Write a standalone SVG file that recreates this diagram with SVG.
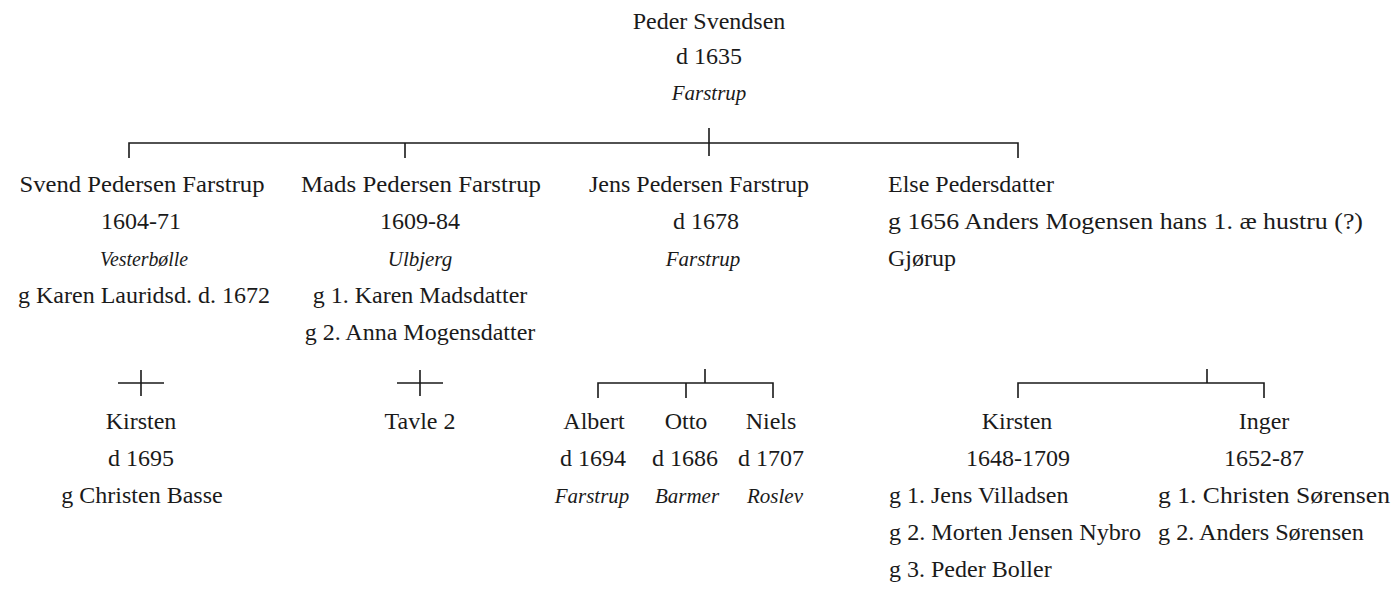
<svg xmlns="http://www.w3.org/2000/svg" width="1397" height="594" viewBox="0 0 1397 594">
<style>
text{font-family:"Liberation Serif","DejaVu Serif",serif;font-size:24px;fill:#1a1a1a}
.c{text-anchor:middle}
.i{font-style:italic;font-size:21px}
.line{stroke:#1a1a1a;stroke-width:1.6;fill:none}
</style>
<rect width="1397" height="594" fill="#fff"/>
<g id="connectors">
<path class="line" d="M129,158V143H1018V158M405,143V158M709,128V156"/>
<path class="line" d="M118,383H164M141,370V396"/>
<path class="line" d="M397,383H443M420,370V396"/>
<path class="line" d="M598,398V383H773V398M686,383V398M705,369V383"/>
<path class="line" d="M1018,398V383H1264V398M1207,369V383"/>
</g>
<g id="peder">
<text class="c" x="709" y="29">Peder Svendsen</text>
<text class="c" x="709" y="64">d 1635</text>
<text class="c i" x="709" y="100">Farstrup</text>
</g>
<g id="svend">
<text class="c" x="142" y="192" textLength="245" lengthAdjust="spacingAndGlyphs">Svend Pedersen Farstrup</text>
<text class="c" x="141" y="229">1604-71</text>
<text class="c i" x="144" y="266" textLength="88" lengthAdjust="spacingAndGlyphs">Vesterbølle</text>
<text class="c" x="144" y="303">g Karen Lauridsd. d. 1672</text>
</g>
<g id="mads">
<text class="c" x="421" y="192" textLength="240" lengthAdjust="spacingAndGlyphs">Mads Pedersen Farstrup</text>
<text class="c" x="420" y="229">1609-84</text>
<text class="c i" x="420" y="266">Ulbjerg</text>
<text class="c" x="420" y="303">g 1. Karen Madsdatter</text>
<text class="c" x="420" y="340">g 2. Anna Mogensdatter</text>
</g>
<g id="jens">
<text class="c" x="699" y="192">Jens Pedersen Farstrup</text>
<text class="c" x="706" y="229">d 1678</text>
<text class="c i" x="703" y="266">Farstrup</text>
</g>
<g id="else">
<text x="888" y="192">Else Pedersdatter</text>
<text x="888" y="229" textLength="475" lengthAdjust="spacingAndGlyphs">g 1656 Anders Mogensen hans 1. æ hustru (?)</text>
<text x="888" y="266">Gjørup</text>
</g>
<g id="kirsten1">
<text class="c" x="141" y="429">Kirsten</text>
<text class="c" x="141" y="466">d 1695</text>
<text class="c" x="142" y="503">g Christen Basse</text>
</g>
<g id="tavle2">
<text class="c" x="420" y="429">Tavle 2</text>
</g>
<g id="albert">
<text class="c" x="594" y="429">Albert</text>
<text class="c" x="593" y="466">d 1694</text>
<text class="c i" x="592" y="503">Farstrup</text>
</g>
<g id="otto">
<text class="c" x="686" y="429">Otto</text>
<text class="c" x="685" y="466">d 1686</text>
<text class="c i" x="687" y="503">Barmer</text>
</g>
<g id="niels">
<text class="c" x="771" y="429">Niels</text>
<text class="c" x="771" y="466">d 1707</text>
<text class="c i" x="775" y="503">Roslev</text>
</g>
<g id="kirsten2">
<text class="c" x="1017" y="429">Kirsten</text>
<text class="c" x="1018" y="466">1648-1709</text>
<text x="889" y="503">g 1. Jens Villadsen</text>
<text x="889" y="540" textLength="252" lengthAdjust="spacingAndGlyphs">g 2. Morten Jensen Nybro</text>
<text x="889" y="577">g 3. Peder Boller</text>
</g>
<g id="inger">
<text class="c" x="1264" y="429">Inger</text>
<text class="c" x="1264" y="466">1652-87</text>
<text x="1158" y="503" textLength="232" lengthAdjust="spacingAndGlyphs">g 1. Christen Sørensen</text>
<text x="1158" y="540" textLength="206" lengthAdjust="spacingAndGlyphs">g 2. Anders Sørensen</text>
</g>
</svg>
